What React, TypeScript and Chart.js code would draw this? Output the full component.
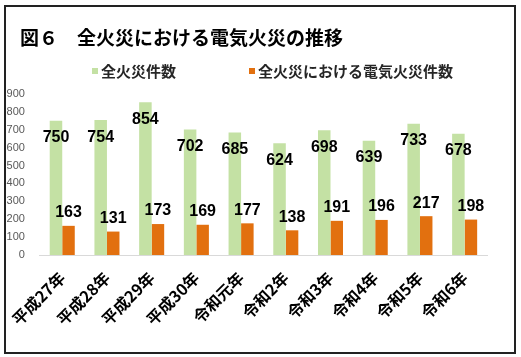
import React, { useEffect, useRef } from 'react';
import { Chart, registerables } from 'chart.js';

Chart.register(...registerables);

const titleText = '図６　全火災における電気火災の推移';
const categories = ['平成27年', '平成28年', '平成29年', '平成30年', '令和元年', '令和2年', '令和3年', '令和4年', '令和5年', '令和6年'];
const seriesNames = ['全火災件数', '全火災における電気火災件数'];
const allFires = [750, 754, 854, 702, 685, 624, 698, 639, 733, 678];
const electricFires = [163, 131, 173, 169, 177, 138, 191, 196, 217, 198];
const yMin = 0;
const yMax = 900;
const yStep = 100;

const colors = ['#C4E1A4', '#E2700F'];

const CJK = '"Noto Sans CJK JP", "Noto Sans", sans-serif';
const NUM = '"Liberation Sans", Arial, sans-serif';

const labelPlugin = {
  id: 'barValueLabels',
  afterDatasetsDraw(chart: any) {
    const ctx = chart.ctx;
    ctx.save();
    ctx.font = `bold 16px ${NUM}`;
    ctx.fillStyle = '#000000';
    ctx.textAlign = 'center';
    ctx.textBaseline = 'middle';
    chart.data.datasets.forEach((ds: any, di: number) => {
      const meta = chart.getDatasetMeta(di);
      meta.data.forEach((bar: any, i: number) => {
        const off = di === 0 ? 17 : -13;
        ctx.fillText(String(ds.data[i]), bar.x, bar.y + off);
      });
    });
    ctx.restore();
  },
};

export default function App() {
  const canvasRef = useRef<HTMLCanvasElement | null>(null);

  useEffect(() => {
    const canvas = canvasRef.current;
    if (!canvas) return;
    const chart = new Chart(canvas, {
      type: 'bar',
      data: {
        labels: categories,
        datasets: [
          { label: seriesNames[0], data: allFires, backgroundColor: colors[0] },
          { label: seriesNames[1], data: electricFires, backgroundColor: colors[1] },
        ],
      },
      options: {
        responsive: false,
        animation: false,
        devicePixelRatio: 1,
        layout: { padding: { top: 94, right: 34, bottom: 0, left: 0 } },
        datasets: { bar: { categoryPercentage: 0.56, barPercentage: 1.0 } },
        plugins: {
          legend: { display: false },
          title: { display: false },
          tooltip: { enabled: false },
        },
        scales: {
          x: {
            offset: true,
            grid: { display: false, drawTicks: false },
            border: { display: true, color: '#D9D9D9', width: 1 },
            ticks: {
              minRotation: 45,
              maxRotation: 45,
              autoSkip: false,
              padding: 13,
              color: '#000000',
              font: { family: CJK, size: 16, weight: 'bold' },
            },
            afterFit: (s: any) => {
              s.height = 102;
            },
          },
          y: {
            min: yMin,
            max: yMax,
            grid: { display: false, drawTicks: false },
            border: { display: false },
            ticks: {
              stepSize: yStep,
              padding: 15,
              color: '#595959',
              font: { family: NUM, size: 11 },
            },
            afterFit: (s: any) => {
              s.width = 39;
            },
          },
        },
      },
      plugins: [labelPlugin],
    });
    return () => chart.destroy();
  }, []);

  return (
    <div style={{ position: 'absolute', left: 0, top: 0, width: 521, height: 357, background: '#ffffff' }}>
      <canvas ref={canvasRef} width={521} height={357} style={{ position: 'absolute', left: 0, top: 0, width: 521, height: 357 }} />
      <div
        style={{
          position: 'absolute',
          left: 4,
          top: 5,
          width: 508,
          height: 345,
          border: '2px solid #222222',
          pointerEvents: 'none',
        }}
      />
      <div
        style={{
          position: 'absolute',
          left: 20,
          top: 27,
          fontFamily: CJK,
          fontWeight: 'bold',
          fontSize: 19,
          lineHeight: '19px',
          color: '#000000',
          whiteSpace: 'nowrap',
        }}
      >
        {titleText}
      </div>
      <div style={{ position: 'absolute', left: 92, top: 63, display: 'flex', alignItems: 'center', fontFamily: CJK, fontWeight: 'bold', fontSize: 15, lineHeight: '16px', color: '#262626', whiteSpace: 'nowrap' }}>
        <span style={{ display: 'inline-block', width: 6, height: 6, background: colors[0], marginRight: 3 }} />
        <span>{seriesNames[0]}</span>
      </div>
      <div style={{ position: 'absolute', left: 249, top: 63, display: 'flex', alignItems: 'center', fontFamily: CJK, fontWeight: 'bold', fontSize: 15, lineHeight: '16px', color: '#262626', whiteSpace: 'nowrap' }}>
        <span style={{ display: 'inline-block', width: 6, height: 6, background: colors[1], marginRight: 3 }} />
        <span>{seriesNames[1]}</span>
      </div>
    </div>
  );
}
